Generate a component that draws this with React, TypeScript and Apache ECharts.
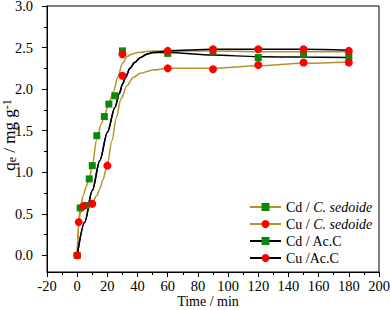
import React, { useEffect, useRef } from "react";
import * as echarts from "echarts";

// ---- Data ----
const seriesNames = ["Cd / C. sedoide", "Cu / C. sedoide", "Cd / Ac.C", "Cu /Ac.C"];

const xTicks = [-20, 0, 20, 40, 60, 80, 100, 120, 140, 160, 180, 200];
const yTicks = [0, 0.5, 1.0, 1.5, 2.0, 2.5, 3.0];
const yMinorTicks = [0.25, 0.75, 1.25, 1.75, 2.25, 2.75];

// measured points
const cdSedT = [0, 2, 6, 8, 10, 13, 18, 21, 25, 30];
const cdSedV = [0, 0.57, 0.6, 0.92, 1.08, 1.44, 1.67, 1.82, 1.92, 2.46];
const cdAcT = [60, 90, 120, 150, 180];
const cdAcV = [2.43, 2.46, 2.38, 2.42, 2.39];
const cuSedT = [0, 1, 4, 10, 20, 30, 60, 90, 120, 150, 180];
const cuSedV = [0, 0.4, 0.59, 0.62, 1.08, 2.16, 2.25, 2.24, 2.29, 2.32, 2.32];
const cuAcT = [30, 60, 90, 120, 150, 180];
const cuAcV = [2.42, 2.46, 2.48, 2.48, 2.48, 2.46];

// fitted curves
const cdSedFitT = [0, 1, 2, 4, 6, 8, 10, 13, 16, 18, 21, 24, 27, 30, 33, 36, 40, 50, 60, 90, 120, 150, 180];
const cdSedFitV = [0, 0.4, 0.57, 0.72, 0.83, 0.93, 1.08, 1.4, 1.58, 1.68, 1.83, 1.97, 2.15, 2.31, 2.39, 2.42, 2.44, 2.46, 2.46, 2.46, 2.45, 2.45, 2.45];
const cuSedFitT = [0, 1, 2, 3, 5, 7, 10, 13, 15, 17, 20, 23, 26, 29, 33, 37, 42, 50, 60, 90, 120, 150, 180];
const cuSedFitV = [0, 0.36, 0.5, 0.56, 0.6, 0.61, 0.63, 0.72, 0.8, 0.91, 1.09, 1.38, 1.66, 1.88, 2.04, 2.14, 2.19, 2.23, 2.25, 2.25, 2.28, 2.31, 2.33];
const cdAcFitT = [0, 5, 10, 15, 20, 25, 28, 30, 32, 35, 38, 42, 46, 50, 60, 90, 120, 150, 180];
const cdAcFitV = [0, 0.4, 0.78, 1.14, 1.48, 1.78, 1.95, 2.06, 2.14, 2.25, 2.32, 2.38, 2.42, 2.44, 2.44, 2.41, 2.39, 2.385, 2.38];
const cuAcFitT = [0, 5, 10, 15, 20, 25, 28, 30, 32, 35, 38, 42, 46, 50, 60, 90, 120, 150, 180];
const cuAcFitV = [0, 0.4, 0.78, 1.14, 1.48, 1.78, 1.95, 2.06, 2.14, 2.25, 2.32, 2.38, 2.42, 2.44, 2.46, 2.48, 2.48, 2.48, 2.47];

const GOLD = "#b8912f";
const BLACK = "#000000";
const GREEN = "#0a8a0a";
const RED = "#ff0000";
const FONT = "Times New Roman, Liberation Serif, DejaVu Serif, serif";

const zip = (t: number[], v: number[]) => t.map((x, i) => [x, v[i]]);

export default function App() {
  const ref = useRef<HTMLDivElement>(null);
  useEffect(() => {
    if (!ref.current) return;
    const chart = echarts.init(ref.current, null, { renderer: "svg" });
    const lineSeries = (name: string, t: number[], v: number[], lc: string, ic: string, sym: string) => ({
      name,
      type: "line",
      data: zip(t, v),
      smooth: 0.3,
      smoothMonotone: "x",
      showSymbol: false,
      symbol: sym,
      symbolSize: 8,
      itemStyle: { color: ic },
      lineStyle: { color: lc, width: 1.5 },
      z: 2,
    });
    const scatterSeries = (name: string, t: number[], v: number[], color: string, sym: string, size: number, z: number) => ({
      name,
      type: "scatter",
      data: zip(t, v),
      symbol: sym,
      symbolSize: size,
      itemStyle: { color, opacity: 1 },
      z,
    });
    chart.setOption({
      animation: false,
      textStyle: { fontFamily: FONT },
      grid: {
        left: 47, right: 11, top: 6, bottom: 38,
        outerBoundsMode: "none",
        containLabel: false,
        show: true, borderColor: "#000", borderWidth: 1, backgroundColor: "transparent",
      },
      legend: {
        data: seriesNames,
        orient: "vertical",
        left: 244,
        top: 195,
        itemWidth: 31,
        itemHeight: 10,
        itemGap: 3,
        textStyle: {
          fontFamily: FONT,
          fontSize: 14,
          color: "#000",
          lineHeight: 14,
          rich: {
            n: { fontFamily: FONT, fontSize: 14, color: "#000" },
            i: { fontFamily: FONT, fontSize: 14, color: "#000", fontStyle: "italic" },
          },
        },
        formatter: (name: string) => {
          const idx = name.indexOf("C. sedoide");
          if (idx >= 0) return `{n|${name.slice(0, idx)}}{i|C. sedoide}`;
          return `{n|${name}}`;
        },
      },
      xAxis: {
        type: "value",
        min: xTicks[0],
        max: xTicks[xTicks.length - 1],
        interval: 20,
        name: "Time / min",
        nameLocation: "middle",
        nameGap: 22,
        nameMoveOverlap: false,
        nameTextStyle: { fontFamily: FONT, fontSize: 14, color: "#000", padding: [0, 10, 0, 0] },
        axisLine: { onZero: false, lineStyle: { color: "#000", width: 1 } },
        axisTick: { show: true, inside: false, length: 5, lineStyle: { color: "#000" } },
        minorTick: { show: true, splitNumber: 2, length: 3, lineStyle: { color: "#000" } },
        axisLabel: { fontFamily: FONT, fontSize: 14.5, color: "#000", margin: 6 },
        splitLine: { show: false },
        minorSplitLine: { show: false },
      },
      yAxis: [
        {
          type: "value",
          min: -0.2,
          max: 3.0,
          name: "{q|q}{s|e}{q| / mg g}{p|-1}",
          nameLocation: "middle",
          nameGap: 29,
          nameRotate: 90,
          nameMoveOverlap: false,
          nameTextStyle: {
            fontFamily: FONT,
            color: "#000",
            padding: [0, 0, 0, 8],
            rich: {
              q: { fontFamily: FONT, fontSize: 17, color: "#000" },
              s: { fontFamily: FONT, fontSize: 12, color: "#000", padding: [6, 0, 0, 0] },
              p: { fontFamily: FONT, fontSize: 12, color: "#000", padding: [0, 0, 5, 0] },
            },
          },
          axisLine: { onZero: false, lineStyle: { color: "#000", width: 1 } },
          axisTick: { show: true, inside: false, length: 5, customValues: yTicks, lineStyle: { color: "#000" } },
          axisLabel: {
            fontFamily: FONT,
            fontSize: 14.5,
            color: "#000",
            margin: 14,
            customValues: yTicks,
            formatter: (v: number) => v.toFixed(1),
          },
          splitLine: { show: false },
        },
        {
          type: "value",
          min: -0.2,
          max: 3.0,
          position: "left",
          axisLine: { show: false, onZero: false },
          axisTick: { show: true, inside: false, length: 3, customValues: yMinorTicks, lineStyle: { color: "#000" } },
          axisLabel: { show: false },
          splitLine: { show: false },
        },
      ],
      series: [
        lineSeries(seriesNames[0], cdSedFitT, cdSedFitV, GOLD, GREEN, "rect"),
        lineSeries(seriesNames[1], cuSedFitT, cuSedFitV, GOLD, RED, "circle"),
        lineSeries(seriesNames[2], cdAcFitT, cdAcFitV, BLACK, GREEN, "rect"),
        lineSeries(seriesNames[3], cuAcFitT, cuAcFitV, BLACK, RED, "circle"),
        scatterSeries("Cd sedoide points", cdSedT, cdSedV, GREEN, "rect", 7, 3),
        scatterSeries("Cd AcC points", cdAcT, cdAcV, GREEN, "rect", 7, 3),
        scatterSeries("Cu sedoide points", cuSedT, cuSedV, RED, "circle", 8, 4),
        scatterSeries("Cu AcC points", cuAcT, cuAcV, RED, "circle", 8, 4),
      ],
    });
    return () => chart.dispose();
  }, []);
  return <div ref={ref} style={{ position: "fixed", left: 0, top: 0, width: 390, height: 310, background: "#fff" }} />;
}
